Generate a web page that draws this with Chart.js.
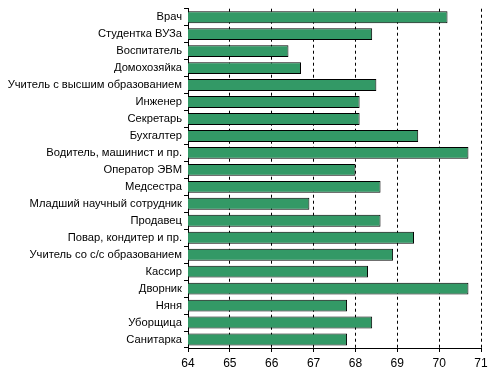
<!DOCTYPE html>
<html>
<head>
<meta charset="utf-8">
<script src="https://cdn.jsdelivr.net/npm/chart.js@4"></script>
<style>
html,body{margin:0;padding:0;background:#fff;}
#wrap{width:493px;height:375px;position:relative;}
</style>
</head>
<body>
<div id="wrap"><canvas id="c" width="493" height="375"></canvas></div>
<script>
const categories = ["Врач","Студентка ВУЗа","Воспитатель","Домохозяйка","Учитель с высшим образованием","Инженер","Секретарь","Бухгалтер","Водитель, машинист и пр.","Оператор ЭВМ","Медсестра","Младший научный сотрудник","Продавец","Повар, кондитер и пр.","Учитель со с/с образованием","Кассир","Дворник","Няня","Уборщица","Санитарка"];
const values = [70.2,68.4,66.4,66.7,68.5,68.1,68.1,69.5,70.7,68.0,68.6,66.9,68.6,69.4,68.9,68.3,70.7,67.8,68.4,67.8];
const xMin = 64, xMax = 71;

Chart.defaults.font.family = "'Liberation Sans', Arial, sans-serif";
Chart.defaults.font.size = 11;
Chart.defaults.color = '#000';

new Chart(document.getElementById('c'), {
  type: 'bar',
  data: {
    labels: categories,
    datasets: [{
      data: values,
      backgroundColor: '#339966',
      borderColor: '#000',
      borderWidth: 1,
      borderSkipped: false,
      barPercentage: 0.7,
      categoryPercentage: 1
    }]
  },
  options: {
    indexAxis: 'y',
    responsive: false,
    animation: false,
    layout: { padding: { top: 7, right: 12, left: 0, bottom: 0 } },
    plugins: { legend: { display: false }, tooltip: { enabled: false } },
    scales: {
      x: {
        min: xMin, max: xMax,
        ticks: { stepSize: 1, padding: 4, maxRotation: 0, font: { size: 12 } },
        grid: {
          color: (ctx) => ctx.index === 0 ? 'rgba(0,0,0,0)' : '#000',
          tickColor: '#000',
          tickLength: 4,
          tickBorderDash: [],
          lineWidth: 1
        },
        border: { display: true, color: '#000', width: 1, dash: [3,3] },
        afterFit: (s) => { s.height = 27; }
      },
      y: {
        offset: true,
        ticks: { padding: 2, autoSkip: false, font: { size: 11.2 } },
        grid: { offset: true, drawOnChartArea: false, tickLength: 4, color: '#000', tickColor: '#000' },
        border: { display: true, color: '#000', width: 1 },
        afterFit: (s) => { s.width = 188; }
      }
    }
  }
});
</script>
</body>
</html>
